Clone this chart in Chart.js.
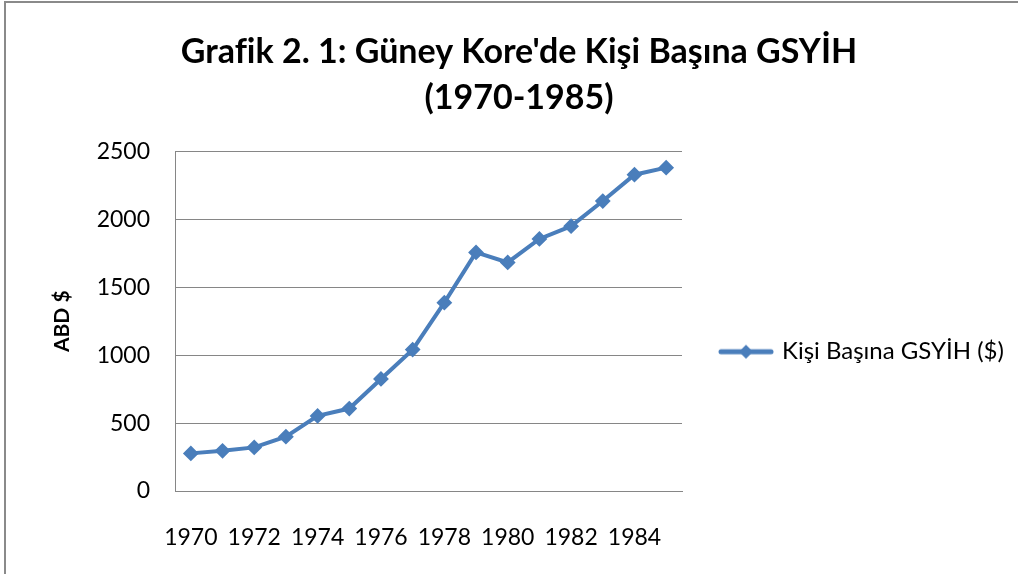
<!DOCTYPE html>
<html lang="tr">
  <head>
    <meta charset="UTF-8" />
    <title>Grafik 2.1</title>
    <script src="https://cdn.jsdelivr.net/npm/chart.js"></script>
    <style>
      html, body { margin: 0; padding: 0; background: #fff; overflow: hidden; }
      #frame {
        position: absolute; left: 4px; top: 1px; width: 1100px; height: 700px;
        border: 2px solid #8a8a8a; box-sizing: border-box;
      }
      #wrap { position: absolute; left: 0; top: 0; width: 1018px; height: 574px; }
    </style>
  </head>
  <body>
    <div id="frame"></div>
    <div id="wrap"><canvas id="gdpChart" width="1018" height="574"></canvas></div>
    <script>
      // Veriler
      var years = ["1970", "1971", "1972", "1973", "1974", "1975", "1976", "1977",
                   "1978", "1979", "1980", "1981", "1982", "1983", "1984", "1985"];
      var gdpPerCapita = [277, 296, 321, 400, 553, 607, 825, 1041,
                          1387, 1757, 1683, 1856, 1950, 2135, 2329, 2381];
      var yTicks = [0, 500, 1000, 1500, 2000, 2500];

      var blue = "#4a7ebb";
      var fontName = "Lato";

      // legend on the right is capped to a quarter of the width by default; give it a fixed width
      var LegendEl = Chart.Legend._element;
      var origUpdate = LegendEl.prototype.update;
      LegendEl.prototype.update = function (maxWidth, maxHeight, margins) {
        origUpdate.call(this, 336, maxHeight, margins);
        if (!this.isHorizontal()) this.width = 336;
      };

      // legend icon: line with diamond
      var icon = document.createElement("canvas");
      icon.width = 56;
      icon.height = 18;
      var ic = icon.getContext("2d");
      ic.strokeStyle = blue;
      ic.lineWidth = 5;
      ic.lineCap = "round";
      ic.beginPath();
      ic.moveTo(3, 9);
      ic.lineTo(53, 9);
      ic.stroke();
      ic.fillStyle = blue;
      ic.beginPath();
      ic.moveTo(28, 2);
      ic.lineTo(35, 9);
      ic.lineTo(28, 16);
      ic.lineTo(21, 9);
      ic.closePath();
      ic.fill();

      var ctx = document.getElementById("gdpChart").getContext("2d");
      new Chart(ctx, {
        type: "line",
        data: {
          labels: years,
          datasets: [
            {
              label: "Kişi Başına GSYİH ($)",
              data: gdpPerCapita,
              borderColor: blue,
              backgroundColor: blue,
              borderWidth: 4,
              pointStyle: "rectRot",
              pointRadius: 6.5,
              pointBorderWidth: 2,
              pointBackgroundColor: blue,
              pointBorderColor: blue,
              tension: 0,
              fill: false,
            },
          ],
        },
        options: {
          responsive: false,
          animation: false,
          layout: { padding: { left: 20, right: 0, top: 0, bottom: 0 } },
          plugins: {
            title: {
              display: true,
              text: ["Grafik 2. 1: Güney Kore'de Kişi Başına GSYİH", "(1970-1985)"],
              color: "#000",
              font: { family: fontName, size: 34, weight: "bold", lineHeight: 1.36 },
              padding: { top: 29, bottom: 30 },
            },
            legend: {
              position: "right",
              align: "center",
              fullSize: false,
              title: {
                display: true,
                text: " ",
                font: { size: 10, lineHeight: 1 },
                padding: { top: 51, bottom: 0 },
              },
              labels: {
                color: "#000",
                font: { family: fontName, size: 24 },
                usePointStyle: true,
                pointStyleWidth: 48,
                padding: 40,
                generateLabels: function (chart) {
                  var ds = chart.data.datasets[0];
                  return [{ text: ds.label, pointStyle: icon, fontColor: "#000", lineWidth: 0, datasetIndex: 0 }];
                },
              },
            },
            tooltip: { enabled: false },
          },
          scales: {
            x: {
              offset: true,
              grid: { display: false, drawTicks: false },
              border: { display: true, color: "#868686", width: 1 },
              ticks: {
                color: "#000",
                font: { family: fontName, size: 23 },
                padding: 33,
                autoSkip: false,
                maxRotation: 0,
                callback: function (v, i) {
                  return i % 2 === 0 ? years[i] : "";
                },
              },
              afterFit: function (scale) {
                scale.height = 83;
              },
            },
            y: {
              min: 0,
              max: 2500,
              afterBuildTicks: function (axis) {
                axis.ticks = yTicks.map(function (v) { return { value: v }; });
              },
              grid: { color: "#868686", lineWidth: 1, drawTicks: false },
              border: { display: true, color: "#868686", width: 1 },
              ticks: {
                color: "#000",
                font: { family: fontName, size: 23 },
                padding: 25,
                callback: function (v) {
                  return String(v);
                },
              },
              title: {
                display: true,
                text: "ABD $",
                color: "#000",
                font: { family: fontName, size: 21, weight: "bold", lineHeight: 1.2 },
                padding: { top: 30, bottom: 22 },
              },
              afterFit: function (scale) {
                scale.width = 155;
              },
            },
          },
        },
      });
    </script>
  </body>
</html>
